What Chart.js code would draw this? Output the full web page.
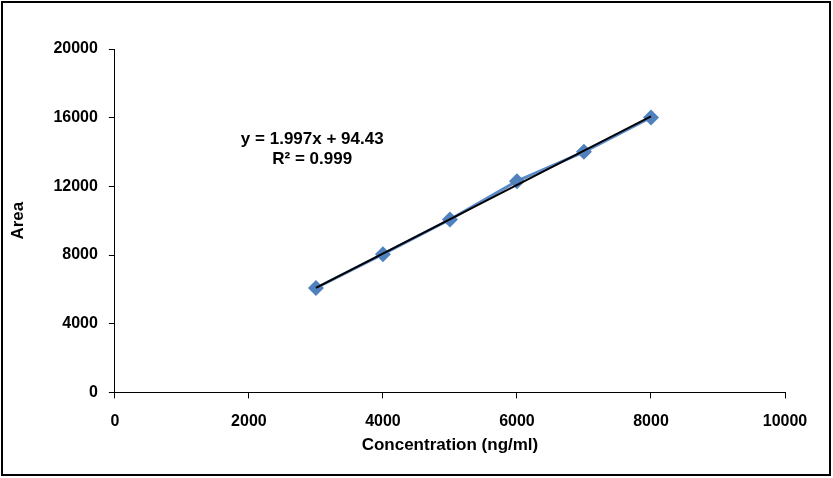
<!DOCTYPE html>
<html>
<head>
<meta charset="utf-8">
<script src="https://cdn.jsdelivr.net/npm/chart.js@4/dist/chart.umd.min.js"></script>
<style>
  html, body { margin: 0; padding: 0; background: #fff; }
  #wrap { width: 833px; height: 478px; position: relative; }
</style>
</head>
<body>
<div id="wrap"><canvas id="graph"></canvas></div>
<script>
// valeurs
const concentrations = [3000, 4000, 5000, 6000, 7000, 8000];
const areas = [6080, 8050, 10070, 12300, 14010, 16010];
const xTicks = [0, 2000, 4000, 6000, 8000, 10000];
const yTicks = [0, 4000, 8000, 12000, 16000, 20000];
const pente = 1.997;
const ordonnee = 94.43;
const equationLines = ["y = 1.997x + 94.43", "R² = 0.999"];

const police = "'Liberation Sans', Arial, sans-serif";

// droite de tendance
const tendance = [
  { x: concentrations[0], y: pente * concentrations[0] + ordonnee },
  { x: concentrations[concentrations.length - 1], y: pente * concentrations[concentrations.length - 1] + ordonnee }
];

// cadre + equation
const decor = {
  id: "decor",
  afterDraw(chart) {
    const ctx = chart.ctx;
    ctx.save();
    ctx.strokeStyle = "#000";
    ctx.lineWidth = 2;
    ctx.strokeRect(2, 2, 828, 473);
    const xs = chart.scales.x, ys = chart.scales.y;
    ctx.fillStyle = "#000";
    ctx.font = "bold 17px " + police;
    ctx.textAlign = "center";
    ctx.textBaseline = "middle";
    ctx.fillText(equationLines[0], xs.getPixelForValue(2945), ys.getPixelForValue(14750));
    ctx.fillText(equationLines[1], xs.getPixelForValue(2945), ys.getPixelForValue(13580));
    ctx.restore();
  }
};

const fontTicks = { family: police, weight: "bold", size: 16 };
const fontTitre = { family: police, weight: "bold", size: 17 };

new Chart(document.getElementById("graph"), {
  type: "scatter",
  data: {
    datasets: [
      {
        label: "Area",
        data: concentrations.map((c, i) => ({ x: c, y: areas[i] })),
        showLine: true,
        borderColor: "#5b8ac7",
        backgroundColor: "#4f81bd",
        borderWidth: 3,
        pointStyle: "rectRot",
        pointRadius: 8,
        pointBorderWidth: 0,
        order: 2
      },
      {
        label: "Tendance",
        data: tendance,
        showLine: true,
        borderColor: "#000",
        borderWidth: 2,
        pointRadius: 0,
        order: 1
      }
    ]
  },
  options: {
    responsive: true,
    maintainAspectRatio: false,
    animation: false,
    layout: { padding: { top: 49, right: 48, left: 0, bottom: 0 } },
    plugins: { legend: { display: false }, tooltip: { enabled: false } },
    scales: {
      x: {
        type: "linear",
        min: 0, max: 10000,
        afterBuildTicks: s => { s.ticks = xTicks.map(v => ({ value: v })); },
        grid: { display: true, drawOnChartArea: false, drawTicks: true, tickLength: 6, color: "#000" },
        border: { color: "#000", width: 1 },
        ticks: { color: "#000", font: fontTicks, padding: 14, maxRotation: 0, callback: v => String(v) },
        title: { display: true, text: "Concentration (ng/ml)", color: "#000", font: fontTitre, padding: { top: -10, bottom: 22 } }
      },
      y: {
        type: "linear",
        min: 0, max: 20000,
        afterBuildTicks: s => { s.ticks = yTicks.map(v => ({ value: v })); },
        grid: { display: true, drawOnChartArea: false, drawTicks: true, tickLength: 6, color: "#000" },
        border: { color: "#000", width: 1 },
        ticks: { color: "#000", font: fontTicks, padding: 11, callback: v => String(v) },
        title: { display: true, text: "Area", color: "#000", font: fontTitre, padding: { top: 8, bottom: 14 } }
      }
    }
  },
  plugins: [decor]
});
</script>
</body>
</html>
